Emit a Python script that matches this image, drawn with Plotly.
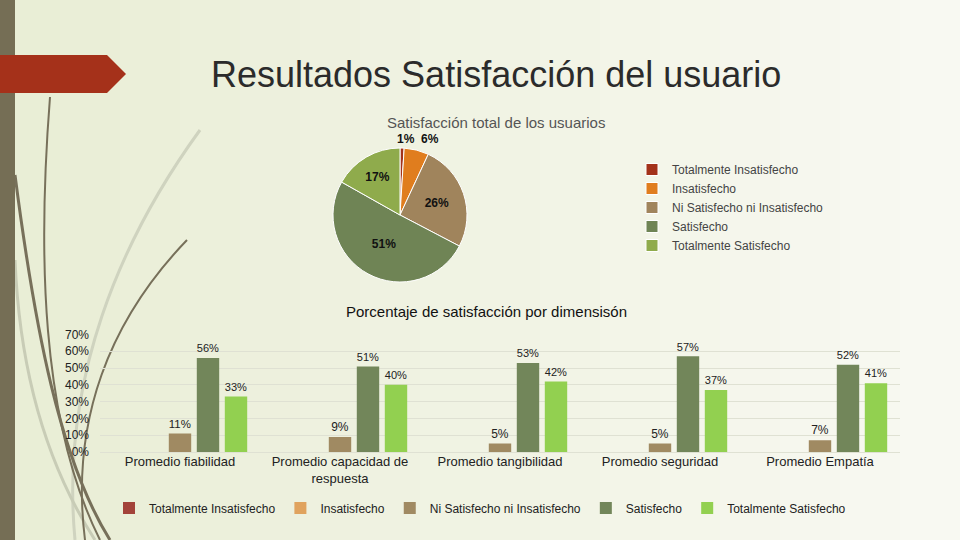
import plotly.graph_objects as go

W, H = 960, 540


def px(x):
    return x / W


def py(y):
    return 1 - y / H


# ---------------- data ----------------
series = ["Totalmente Insatisfecho", "Insatisfecho", "Ni Satisfecho ni Insatisfecho",
          "Satisfecho", "Totalmente Satisfecho"]
pie_values = [1, 6, 26, 51, 17]
pie_colors = ["#a3321a", "#e07d1e", "#a0845c", "#6f8455", "#8fab4c"]

dimensions = ["Promedio fiabilidad", "Promedio capacidad de<br>respuesta",
              "Promedio tangibilidad", "Promedio seguridad", "Promedio Empatía"]
tot_insat = [0, 0, 0, 0, 0]
insat = [0, 0, 0, 0, 0]
ni_sat = [11, 9, 5, 5, 7]
sat = [56, 51, 53, 57, 52]
tot_sat = [33, 40, 42, 37, 41]
bar_series = [tot_insat, insat, ni_sat, sat, tot_sat]
bar_colors = ["#a3433a", "#e0a35e", "#a08a62", "#72865a", "#92d050"]
yticks = [0, 10, 20, 30, 40, 50, 60, 70]
ytick_text = [f"{v}%" for v in yticks]

FONT = "Liberation Sans, Arial, sans-serif"

fig = go.Figure()

# ---------------- pie ----------------
pie_text = [f"{v}%" if v >= 10 else "" for v in pie_values]
fig.add_trace(go.Pie(
    labels=series, values=pie_values, sort=False, direction="clockwise", rotation=0,
    marker=dict(colors=pie_colors, line=dict(color="white", width=1)),
    text=pie_text, textinfo="text", textposition="inside",
    insidetextorientation="horizontal",
    textfont=dict(family=FONT, size=12, color="#111", weight="bold"),
    domain=dict(x=[px(332), px(468)], y=[py(282), py(148)]),
    legend="legend2", hoverinfo="label+value",
))

# ---------------- bars ----------------
for name, vals, col in zip(series, bar_series, bar_colors):
    fig.add_trace(go.Bar(
        name=name, x=dimensions, y=vals, marker_color=col,
        text=[f"{v}%" if v else "" for v in vals], textposition="outside",
        textfont=dict(family=FONT, size=12, color="#222"),
        cliponaxis=False, legend="legend",
    ))

# ---------------- decoration shapes ----------------
shapes = []
left = (233, 238, 214)
right = (248, 249, 242)
n = 16
for i in range(n):
    t = i / (n - 1)
    c = tuple(int(left[k] + (right[k] - left[k]) * t) for k in range(3))
    shapes.append(dict(type="rect", xref="paper", yref="paper", x0=i / n, x1=(i + 1) / n + 0.002,
                       y0=0, y1=1, line_width=0, fillcolor=f"rgb{c}", layer="below"))


def path(points):
    s = f"M {px(points[0][0])},{py(points[0][1])}"
    for j in range(1, len(points) - 2, 3):
        a, b, c = points[j], points[j + 1], points[j + 2]
        s += f" C {px(a[0])},{py(a[1])} {px(b[0])},{py(b[1])} {px(c[0])},{py(c[1])}"
    return s


curves = [
    ([(200, 130), (120, 240), (60, 380), (75, 540)], "#cfd3bf", 3),
    ([(15, 260), (20, 380), (50, 470), (95, 540)], "#c8ccb6", 3),
    ([(50, 97), (38, 250), (40, 420), (100, 540)], "#77705a", 2),
    ([(15, 175), (35, 330), (60, 460), (110, 540)], "#77705a", 3),
    ([(187, 240), (110, 320), (70, 420), (85, 540)], "#77705a", 2),
]
for pts, col, w in curves:
    shapes.append(dict(type="path", xref="paper", yref="paper", path=path(pts),
                       line=dict(color=col, width=w), layer="below"))

shapes.append(dict(type="rect", xref="paper", yref="paper", x0=0, x1=px(15), y0=0, y1=1,
                   line_width=0, fillcolor="#756e55", layer="below"))
arrow = (f"M 0,{py(55)} L {px(107)},{py(55)} L {px(126)},{py(74)} "
         f"L {px(107)},{py(93)} L 0,{py(93)} Z")
shapes.append(dict(type="path", xref="paper", yref="paper", path=arrow, line_width=0,
                   fillcolor="#a5311a", layer="below"))


def ann(text, x, y, size, color, weight="normal"):
    return dict(text=text, x=px(x), y=py(y), xref="paper", yref="paper", showarrow=False,
                xanchor="center", yanchor="middle",
                font=dict(family=FONT, size=size, color=color, weight=weight))


annotations = [
    ann("Resultados Satisfacción del usuario", 496, 75, 36, "#2b2b2b"),
    ann("Satisfacción total de los usuarios", 496, 123, 15, "#555"),
    ann(f"{pie_values[0]}%  {pie_values[1]}%", 418, 139, 12, "#111", "bold"),
    ann("Porcentaje de satisfacción por dimensisón", 486, 312, 15, "#111"),
]

fig.update_layout(
    template="none",
    width=W, height=H, autosize=False,
    margin=dict(l=0, r=0, t=0, b=0, pad=0),
    paper_bgcolor="#eef1dd", plot_bgcolor="rgba(0,0,0,0)",
    font=dict(family=FONT, color="#222", size=12),
    barmode="group", bargap=0.125, bargroupgap=0.2,
    xaxis=dict(domain=[px(100), px(900)], anchor="y", showgrid=False, showline=False,
               automargin=False, ticks="", tickfont=dict(size=13, color="#222"), fixedrange=True),
    yaxis=dict(domain=[py(452), py(334.5)], range=[0, 70], tickvals=yticks, ticktext=ytick_text,
               automargin=False, showgrid=True, gridcolor="#dfe1d3", gridwidth=1, zeroline=True,
               zerolinecolor="#dfe1d3", showline=False, ticks="", ticklabelstandoff=10,
               tickfont=dict(size=12, color="#222"), fixedrange=True),
    legend=dict(orientation="h", x=px(480), xanchor="center", y=py(508), yanchor="middle",
                font=dict(size=12, color="#222"), bgcolor="rgba(0,0,0,0)", itemwidth=30,
                traceorder="normal"),
    legend2=dict(orientation="v", x=px(632), xanchor="left", y=py(155), yanchor="top",
                 font=dict(size=12, color="#444"), bgcolor="rgba(0,0,0,0)", tracegroupgap=0),
    shapes=shapes, annotations=annotations,
)

fig.write_html("out.html", config={"displayModeBar": False},
               post_script="document.body.style.margin='0';document.body.style.padding='0';"
                           "document.body.style.overflow='hidden';")
